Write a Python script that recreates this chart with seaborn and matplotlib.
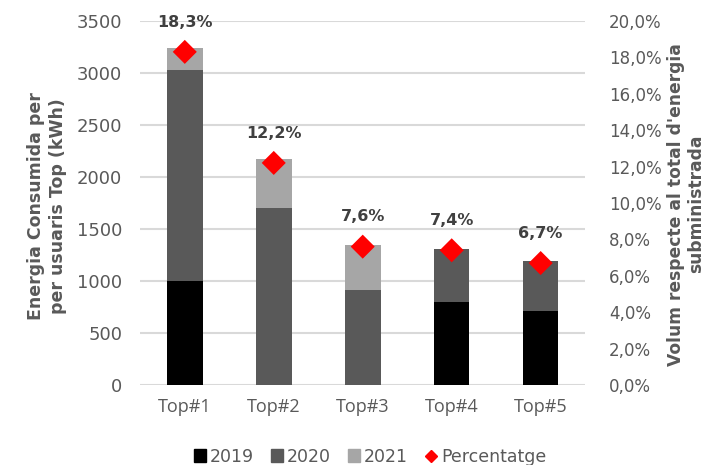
import matplotlib
matplotlib.use("Agg")
import matplotlib.pyplot as plt
from matplotlib.lines import Line2D
from matplotlib.patches import Patch
import seaborn as sns
import pandas as pd
import numpy as np

categories = ["Top#1", "Top#2", "Top#3", "Top#4", "Top#5"]
v2019 = [1000, 0, 0, 800, 715]
v2020 = [2030, 1700, 915, 505, 475]
v2021 = [210, 470, 430, 0, 0]
percent = [18.3, 12.2, 7.6, 7.4, 6.7]
pct_labels = ["18,3%", "12,2%", "7,6%", "7,4%", "6,7%"]

sns.set_theme(style="white")
plt.rcParams["font.family"] = ["DejaVu Sans"]

c2019, c2020, c2021 = "#000000", "#595959", "#a6a6a6"
tick_col = "#595959"

df = pd.DataFrame({"cat": categories, "y2019": v2019, "y2020": v2020,
                   "y2021": v2021, "pct": percent})
df["c1"] = df["y2019"]
df["c2"] = df["y2019"] + df["y2020"]
df["c3"] = df["c2"] + df["y2021"]

fig = plt.figure(figsize=(7.05, 4.65), dpi=100)
ax = fig.add_axes([0.199, 0.172, 0.631, 0.783])

for col, color in [("c3", c2021), ("c2", c2020), ("c1", c2019)]:
    sns.barplot(data=df, x="cat", y=col, color=color, width=0.4,
                saturation=1, ax=ax, zorder=3, linewidth=0)

ax.set_ylim(0, 3500)
ax.set_xlim(-0.5, 4.5)
ax.set_yticks(np.arange(0, 3501, 500))
ax.yaxis.grid(True, color="#d9d9d9", linewidth=1.5, zorder=0)
ax.set_axisbelow(True)
for s in ax.spines.values():
    s.set_visible(False)
ax.tick_params(axis="y", colors=tick_col, labelsize=13, length=0, pad=13)
ax.tick_params(axis="x", colors=tick_col, length=0, pad=9)
for t in ax.get_xticklabels():
    t.set_fontfamily("Open Sans")
    t.set_fontsize(13)
ax.set_xlabel("")
ax.set_ylabel("")

ax2 = ax.twinx()
sns.scatterplot(data=df, x="cat", y="pct", marker="D", color="#ff0000", s=150,
                edgecolor="none", ax=ax2, zorder=5, legend=False)
ax2.set_ylim(0, 20)
ax2.set_yticks(np.arange(0, 20.1, 2))
ax2.set_yticklabels([f"{v:.1f}%".replace(".", ",") for v in np.arange(0, 20.1, 2)])
for s in ax2.spines.values():
    s.set_visible(False)
ax2.tick_params(axis="y", colors=tick_col, labelsize=12, length=0, pad=17)
ax2.set_ylabel("")

fig.text(0.067, 0.556, "Energia Consumida per\nper usuaris Top (kWh)",
         rotation=90, ha="center", va="center", multialignment="center",
         fontsize=12.5, fontweight="bold", color=tick_col, linespacing=1.3)
fig.text(0.973, 0.561, "Volum respecte al total d'energia\nsubministrada",
         rotation=90, ha="center", va="center", multialignment="center",
         fontsize=12.3, fontweight="bold", color=tick_col, linespacing=1.2)

for i, (p, lab) in enumerate(zip(percent, pct_labels)):
    ax2.annotate(lab, (i, p), xytext=(0, 16), textcoords="offset points",
                 ha="center", va="bottom", fontsize=11.5, fontweight="bold",
                 color="#404040", zorder=6)

handles = [Patch(color=c2019, label="2019"), Patch(color=c2020, label="2020"),
           Patch(color=c2021, label="2021"),
           Line2D([], [], marker="D", color="#ff0000", linestyle="none",
                  markersize=6, label="Percentatge")]
leg = fig.legend(handles=handles, loc="center", bbox_to_anchor=(0.525, 0.018),
                 ncol=4, frameon=False, fontsize=12.5, handlelength=0.7,
                 handleheight=0.7, handletextpad=0.2, columnspacing=1.0)
for t in leg.get_texts():
    t.set_color(tick_col)

fig.savefig("out.png", dpi=100)
